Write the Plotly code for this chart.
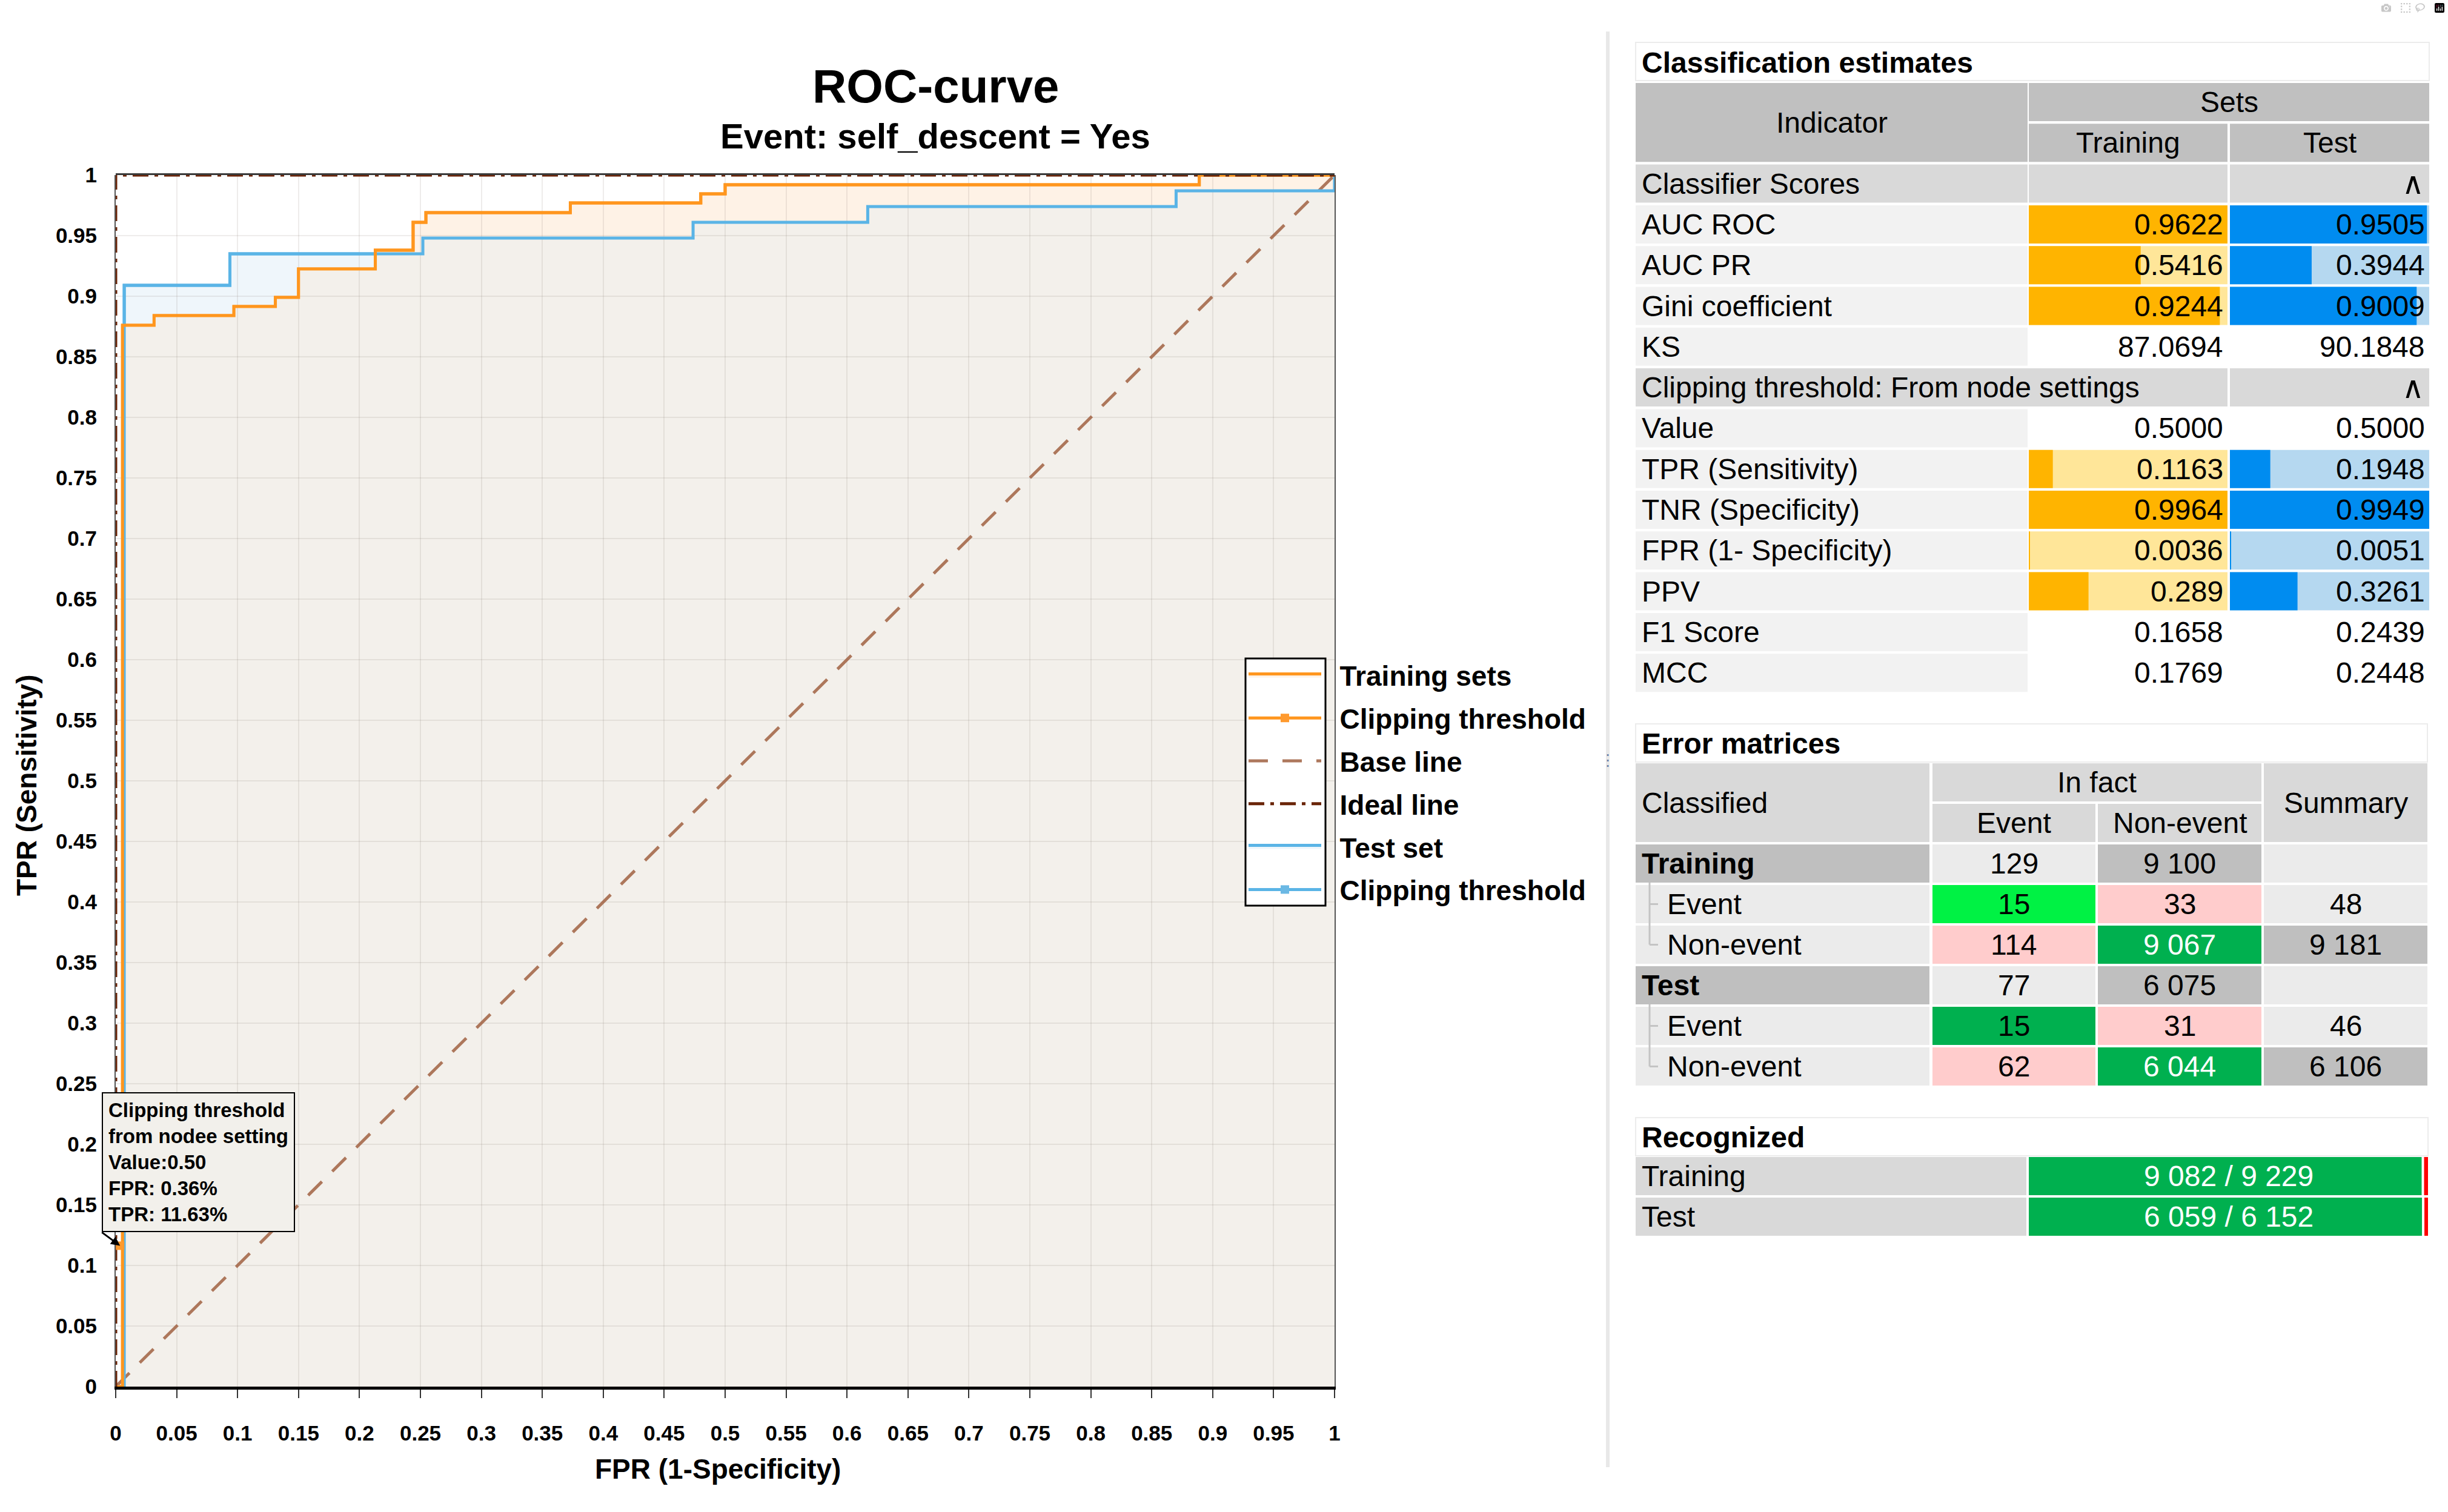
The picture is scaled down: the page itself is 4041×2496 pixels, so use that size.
import plotly.graph_objects as go

W, H = 4041, 2496
FONT = "Liberation Sans"

# ---------------- ROC data ----------------
train_fpr = [0.0, 0.0056, 0.0315, 0.097, 0.131, 0.150, 0.213, 0.244, 0.2545, 0.373, 0.480, 0.500, 0.889, 1.0]
train_tpr = [0.0, 0.876, 0.884, 0.8915, 0.899, 0.9225, 0.938, 0.961, 0.969, 0.977, 0.9845, 0.992, 1.0, 1.0]
test_fpr = [0.0, 0.007, 0.0937, 0.252, 0.4737, 0.617, 0.870, 1.0]
test_tpr = [0.0, 0.909, 0.935, 0.948, 0.961, 0.974, 0.987, 1.0]
clip_value = 0.50
clip_train_fpr, clip_train_tpr = [0.0036], [0.1163]
clip_test_fpr, clip_test_tpr = [0.0051], [0.1948]
base_x, base_y = [0, 1], [0, 1]
ideal_x, ideal_y = [0, 0, 1], [0, 1, 1]
tick_labels = ["0", "0.05", "0.1", "0.15", "0.2", "0.25", "0.3", "0.35", "0.4", "0.45", "0.5",
               "0.55", "0.6", "0.65", "0.7", "0.75", "0.8", "0.85", "0.9", "0.95", "1"]

# ---------------- Classification estimates ----------------
est_sec1 = "Classifier Scores"
est_rows1 = ["AUC ROC", "AUC PR", "Gini coefficient", "KS"]
est_train1 = ["0.9622", "0.5416", "0.9244", "87.0694"]
est_test1 = ["0.9505", "0.3944", "0.9009", "90.1848"]
est_bar1 = [True, True, True, False]
est_sec2 = "Clipping threshold: From node settings"
est_rows2 = ["Value", "TPR (Sensitivity)", "TNR (Specificity)", "FPR (1- Specificity)", "PPV", "F1 Score", "MCC"]
est_train2 = ["0.5000", "0.1163", "0.9964", "0.0036", "0.289", "0.1658", "0.1769"]
est_test2 = ["0.5000", "0.1948", "0.9949", "0.0051", "0.3261", "0.2439", "0.2448"]
est_bar2 = [False, True, True, True, True, False, False]

# ---------------- Error matrices ----------------
cm_sets = ["Training", "Test"]
cm_labels = ["Event", "Non-event"]
cm_fact_totals = [[129, 9100], [77, 6075]]
cm_values = [[[15, 33], [114, 9067]], [[15, 31], [62, 6044]]]
cm_row_totals = [[48, 9181], [46, 6106]]

# ---------------- Recognized ----------------
rec_sets = ["Training", "Test"]
rec_correct = [9082, 6059]
rec_total = [9229, 6152]

# ---------------- styles ----------------
ORANGE = "#ff961e"
BLUE = "#5ab4e6"
BASE_C = "rgba(165,105,75,0.9)"
IDEAL_C = "#6a2508"
GRID = "rgba(120,110,100,0.13)"
LW = 5
NB = "\u00a0\u00a0"


def step_val(xs, ys, u):
    v = ys[0]
    for x, y in zip(xs, ys):
        if x <= u:
            v = y
    return v


# area under both curves (lower envelope of the two step curves)
env_x = sorted(set(train_fpr) | set(test_fpr))
env_y = [min(step_val(train_fpr, train_tpr, u), step_val(test_fpr, test_tpr, u)) for u in env_x]

fig = go.Figure()

# ---- layer 1 (xy): opaque area fills ----
fig.add_trace(go.Scatter(x=test_fpr, y=test_tpr, mode="lines", line=dict(color=BLUE, width=LW, shape="hv"),
                         fill="tozeroy", fillcolor="#eff6fb", name=NB + "Test set",
                         legendgroup="g5", legendrank=5, hoverinfo="skip"))
fig.add_trace(go.Scatter(x=train_fpr, y=train_tpr, mode="lines", line=dict(color=ORANGE, width=LW, shape="hv"),
                         fill="tozeroy", fillcolor="#fef2e6", name=NB + "Training sets",
                         legendgroup="g1", legendrank=1, hoverinfo="skip"))
fig.add_trace(go.Scatter(x=env_x, y=env_y, mode="lines", line=dict(width=0, shape="hv"),
                         fill="tozeroy", fillcolor="#f3f0eb", showlegend=False, hoverinfo="skip"))

# ---- layer 3 (x3y3): grid + lines on top of the fills ----
fig.add_trace(go.Scatter(x=base_x, y=base_y, mode="lines", line=dict(color=BASE_C, width=LW, dash="32px,24px"),
                         name=NB + "Base line", legendgroup="g3", legendrank=3, xaxis="x3", yaxis="y3"))
fig.add_trace(go.Scatter(x=test_fpr, y=test_tpr, mode="lines", line=dict(color=BLUE, width=LW, shape="hv"),
                         showlegend=False, hoverinfo="skip", xaxis="x3", yaxis="y3"))
fig.add_trace(go.Scatter(x=train_fpr, y=train_tpr, mode="lines", line=dict(color=ORANGE, width=LW, shape="hv"),
                         showlegend=False, hoverinfo="skip", xaxis="x3", yaxis="y3"))
fig.add_trace(go.Scatter(x=ideal_x, y=ideal_y, mode="lines", line=dict(color=IDEAL_C, width=LW, dash="26px,10px,6px,10px"),
                         name=NB + "Ideal line", legendgroup="g4", legendrank=4, xaxis="x3", yaxis="y3"))
fig.add_trace(go.Scatter(x=clip_train_fpr, y=clip_train_tpr, mode="lines+markers",
                         line=dict(color=ORANGE, width=LW), marker=dict(symbol="square", size=14, color="#ff9a2e"),
                         name=NB + "Clipping threshold", legendgroup="g2", legendrank=2, xaxis="x3", yaxis="y3"))
fig.add_trace(go.Scatter(x=clip_test_fpr, y=clip_test_tpr, mode="lines+markers",
                         line=dict(color=BLUE, width=LW), marker=dict(symbol="square", size=14, color="#6bb8e4"),
                         name=NB + "Clipping threshold", legendgroup="g6", legendrank=6, xaxis="x3", yaxis="y3"))

# ---------------- table helpers (pixel coordinate axes x2/y2) ----------------
shapes = []
annos = []


def rect(x0, y0, x1, y1, fill, line=None, lw=0, layer="below"):
    shapes.append(dict(type="rect", xref="x2", yref="y2", x0=x0, y0=y0, x1=x1, y1=y1, fillcolor=fill,
                       line=dict(width=lw, color=line if line else fill), layer=layer))


def seg(x0, y0, x1, y1, color, lw):
    shapes.append(dict(type="line", xref="x2", yref="y2", x0=x0, y0=y0, x1=x1, y1=y1,
                       line=dict(color=color, width=lw), layer="below"))


def text(x, y, s, size=48, bold=False, color="black", anchor="left", angle=0):
    annos.append(dict(xref="x2", yref="y2", x=x, y=y, text=s, showarrow=False, xanchor=anchor, yanchor="middle",
                      textangle=angle,
                      font=dict(family=FONT, size=size, color=color, weight="bold" if bold else "normal")))


bars = {}


def bar(center, length, base, color, thick):
    key = (color, thick)
    bars.setdefault(key, ([], [], []))
    bars[key][0].append(center)
    bars[key][1].append(length)
    bars[key][2].append(base)


def fmt(v):
    return f"{v:,}".replace(",", " ")


# ---------------- Classification estimates table ----------------
P = 67.3
RH = 63
TOP = 137
C_EST = [(2700, 3347), (3349, 3677), (3681, 4010)]
BAR_SCALE = 1.04
BAR_COL = [("#ffb400", "#ffe699"), ("#008cf0", "#b5d8f0")]


def rt(i):
    return TOP + P * i


rect(2700, 70, 4010, 133, "white", "#ececec", 2)
text(2708, 103, "Classification estimates", 48, True)
rect(C_EST[0][0], rt(0), C_EST[0][1], rt(1) + RH, "#c0c0c0")
text((C_EST[0][0] + C_EST[0][1]) / 2, (rt(0) + rt(1) + RH) / 2, "Indicator", 48, anchor="center")
rect(C_EST[1][0], rt(0), C_EST[2][1], rt(0) + RH, "#c0c0c0")
text((C_EST[1][0] + C_EST[2][1]) / 2, rt(0) + RH / 2, "Sets", 48, anchor="center")
for c, lab in zip(C_EST[1:], ["Training", "Test"]):
    rect(c[0], rt(1), c[1], rt(1) + RH, "#c0c0c0")
    text((c[0] + c[1]) / 2, rt(1) + RH / 2, lab, 48, anchor="center")


def section(i, title, merged):
    if merged:
        rect(C_EST[0][0], rt(i), C_EST[1][1], rt(i) + RH, "#d9d9d9")
    else:
        rect(C_EST[0][0], rt(i), C_EST[0][1], rt(i) + RH, "#d9d9d9")
        rect(C_EST[1][0], rt(i), C_EST[1][1], rt(i) + RH, "#d9d9d9")
    rect(C_EST[2][0], rt(i), C_EST[2][1], rt(i) + RH, "#d9d9d9")
    text(2708, rt(i) + RH / 2, title, 48)
    text(C_EST[2][1] - 6, rt(i) + RH / 2, "∧", 50, anchor="right")


def metric_rows(i0, names, trs, tes, flags):
    for k, (nm, a, b, fl) in enumerate(zip(names, trs, tes, flags)):
        i = i0 + k
        y0 = rt(i)
        rect(C_EST[0][0], y0, C_EST[0][1], y0 + RH, "#f2f2f2")
        text(2708, y0 + RH / 2, nm, 48)
        for j, val in enumerate([a, b]):
            cx0, cx1 = C_EST[j + 1]
            if fl:
                rect(cx0, y0, cx1, y0 + RH, BAR_COL[j][1])
                wdt = cx1 - cx0
                bar(y0 + RH / 2, min(float(val) * BAR_SCALE, 1.0) * wdt, cx0, BAR_COL[j][0], RH)
            else:
                rect(cx0, y0, cx1, y0 + RH, "white")
            text(cx1 - 5, y0 + RH / 2, val, 48, anchor="right")


section(2, est_sec1, False)
metric_rows(3, est_rows1, est_train1, est_test1, est_bar1)
section(7, est_sec2, True)
metric_rows(8, est_rows2, est_train2, est_test2, est_bar2)

# ---------------- Error matrices ----------------
P2 = 67
CM_TOP = 1260
C_CM = [(2700, 3185), (3190, 3459), (3463, 3733), (3737, 4007)]


def rt2(i):
    return CM_TOP + P2 * i


rect(2700, 1195, 4007, 1258, "white", "#ececec", 2)
text(2708, 1227, "Error matrices", 48, True)
rect(C_CM[0][0], rt2(0), C_CM[0][1], rt2(1) + RH, "#d9d9d9")
text(2708, (rt2(0) + rt2(1) + RH) / 2, "Classified", 48)
rect(C_CM[1][0], rt2(0), C_CM[2][1], rt2(0) + RH, "#d9d9d9")
text((C_CM[1][0] + C_CM[2][1]) / 2, rt2(0) + RH / 2, "In fact", 48, anchor="center")
for c, lab in zip(C_CM[1:3], cm_labels):
    rect(c[0], rt2(1), c[1], rt2(1) + RH, "#d9d9d9")
    text((c[0] + c[1]) / 2, rt2(1) + RH / 2, lab, 48, anchor="center")
rect(C_CM[3][0], rt2(0), C_CM[3][1], rt2(1) + RH, "#d9d9d9")
text((C_CM[3][0] + C_CM[3][1]) / 2, (rt2(0) + rt2(1) + RH) / 2, "Summary", 48, anchor="center")

TP_COL = ["#00f244", "#00b04f"]
for s, setname in enumerate(cm_sets):
    r0 = 2 + 3 * s
    y0 = rt2(r0)
    rect(C_CM[0][0], y0, C_CM[0][1], y0 + RH, "#bfbfbf")
    text(2708, y0 + RH / 2, setname, 48, True)
    rect(C_CM[1][0], y0, C_CM[1][1], y0 + RH, "#ebebeb")
    text((C_CM[1][0] + C_CM[1][1]) / 2, y0 + RH / 2, fmt(cm_fact_totals[s][0]), 48, anchor="center")
    rect(C_CM[2][0], y0, C_CM[2][1], y0 + RH, "#bfbfbf")
    text((C_CM[2][0] + C_CM[2][1]) / 2, y0 + RH / 2, fmt(cm_fact_totals[s][1]), 48, anchor="center")
    rect(C_CM[3][0], y0, C_CM[3][1], y0 + RH, "#ebebeb")
    for k in range(2):
        yk = rt2(r0 + 1 + k)
        rect(C_CM[0][0], yk, C_CM[0][1], yk + RH, "#ebebeb")
        text(2750, yk + RH / 2, cm_labels[k], 48)
        for j in range(2):
            v = cm_values[s][k][j]
            if k == j == 0:
                fc, tc = TP_COL[s], "black"
            elif k == j == 1:
                fc, tc = "#00b04f", "white"
            else:
                fc, tc = "#ffcccc", "black"
            cx0, cx1 = C_CM[1 + j]
            rect(cx0, yk, cx1, yk + RH, fc)
            text((cx0 + cx1) / 2, yk + RH / 2, fmt(v), 48, color=tc, anchor="center")
        rect(C_CM[3][0], yk, C_CM[3][1], yk + RH, "#ebebeb" if k == 0 else "#bfbfbf")
        text((C_CM[3][0] + C_CM[3][1]) / 2, yk + RH / 2, fmt(cm_row_totals[s][k]), 48, anchor="center")
    seg(2723, y0 + RH, 2723, rt2(r0 + 2) + RH / 2, "#c4c4c4", 3)
    for k in range(2):
        yk = rt2(r0 + 1 + k)
        seg(2723, yk + RH / 2, 2737, yk + RH / 2, "#c4c4c4", 3)

# ---------------- Recognized ----------------
REC_TOP = 1910
C_REC = [(2700, 3345), (3349, 4008)]
rect(2700, 1845, 4008, 1908, "white", "#ececec", 2)
text(2708, 1877, "Recognized", 48, True)
for k, (nm, c, t) in enumerate(zip(rec_sets, rec_correct, rec_total)):
    y0 = REC_TOP + P2 * k
    rect(C_REC[0][0], y0, C_REC[0][1], y0 + RH, "#d9d9d9")
    text(2708, y0 + RH / 2, nm, 48)
    wdt = C_REC[1][1] - C_REC[1][0]
    g = c / t * wdt
    bar(y0 + RH / 2, g, C_REC[1][0], "#00b04f", RH)
    bar(y0 + RH / 2, wdt - g - 4, C_REC[1][0] + g + 4, "#ff0000", RH)
    text((C_REC[1][0] + C_REC[1][1]) / 2, y0 + RH / 2, f"{fmt(c)} / {fmt(t)}", 48, color="white", anchor="center")

for (color, thick), (cs, ls, bs) in bars.items():
    fig.add_trace(go.Bar(x=ls, y=cs, base=bs, orientation="h", width=thick, marker=dict(color=color, line=dict(width=0)),
                         xaxis="x2", yaxis="y2", showlegend=False, hoverinfo="skip"))

# ---------------- chart decorations ----------------
rect(2056, 1087, 2188, 1495, "white", "black", 3, layer="above")   # legend symbol box
seg(2654, 52, 2654, 2422, "#e8e8e8", 6)                             # splitter
text(2654, 1255, "⋮", 26, color="#6b7fa8", anchor="center")
text(1544, 142, "ROC-curve", 78, True, anchor="center")
text(1544, 224, "Event: self_descent = Yes", 58, True, anchor="center")
text(1185, 2425, "FPR (1-Specificity)", 46, True, anchor="center")
text(44, 1296, "TPR (Sensitivity)", 46, True, anchor="center", angle=-90)

annos.append(dict(
    x=clip_train_fpr[0], y=clip_train_tpr[0], xref="x", yref="y",
    text=(f"Clipping threshold<br>from nodee setting<br>Value:{clip_value:.2f}<br>"
          f"FPR: {clip_train_fpr[0] * 100:.2f}%<br>TPR: {clip_train_tpr[0] * 100:.2f}%"),
    showarrow=True, ax=-30, ay=-22, xanchor="left", yanchor="bottom", align="left",
    arrowhead=2, arrowsize=1, arrowwidth=3, arrowcolor="black", standoff=0,
    bgcolor="#f2f0eb", bordercolor="black", borderwidth=2, borderpad=9,
    font=dict(family=FONT, size=33, color="black", weight="bold")))

tickvals = [float(t) for t in tick_labels]
gridvals = tickvals[1:-1]
axis_font = dict(family=FONT, size=35, color="black", weight="bold")
XDOM = [191 / W, 2203 / W]
YDOM = [1 - 2289 / H, 1 - 289 / H]

fig.update_layout(
    width=W, height=H, margin=dict(l=0, r=0, t=0, b=0, pad=0, autoexpand=False),
    paper_bgcolor="white", plot_bgcolor="rgba(0,0,0,0)",
    barmode="overlay", hovermode=False,
    xaxis=dict(domain=XDOM, range=[0, 1], tickvals=tickvals, ticktext=tick_labels,
               showgrid=False, zeroline=False, layer="above traces",
               ticks="outside", ticklen=14, tickwidth=2, tickcolor="#333",
               showline=True, linecolor="black", linewidth=5, tickfont=axis_font, ticklabelstandoff=28,
               fixedrange=True, automargin=False),
    yaxis=dict(domain=YDOM, range=[0, 1], tickvals=tickvals, ticktext=tick_labels,
               showgrid=False, zeroline=False, ticks="", layer="above traces",
               showline=True, linecolor="#555", linewidth=2, mirror=True, tickfont=axis_font,
               ticklabelstandoff=22, fixedrange=True, automargin=False),
    xaxis2=dict(domain=[0, 1], range=[0, W], visible=False, anchor="y2", fixedrange=True, automargin=False),
    yaxis2=dict(domain=[0, 1], range=[H, 0], visible=False, anchor="x2", fixedrange=True, automargin=False),
    xaxis3=dict(domain=XDOM, range=[0, 1], anchor="y3", side="top", tickvals=gridvals, showticklabels=False,
                ticks="", showline=True, linecolor="#3a3a3a", linewidth=3, layer="below traces",
                showgrid=True, gridcolor=GRID, gridwidth=2, zeroline=False,
                fixedrange=True, automargin=False),
    yaxis3=dict(domain=YDOM, range=[0, 1], anchor="x3", tickvals=gridvals, showticklabels=False, ticks="",
                showline=False, showgrid=True, gridcolor=GRID, gridwidth=2, zeroline=False,
                fixedrange=True, automargin=False),
    legend=dict(x=2056 / W, y=1 - 1078 / H, xanchor="left", yanchor="top", bgcolor="rgba(0,0,0,0)",
                borderwidth=0, itemwidth=120, tracegroupgap=8,
                font=dict(family=FONT, size=46, color="black", weight="bold")),
    shapes=shapes, annotations=annos,
)

fig.write_html("out.html", post_script="document.body.style.margin='0';")
